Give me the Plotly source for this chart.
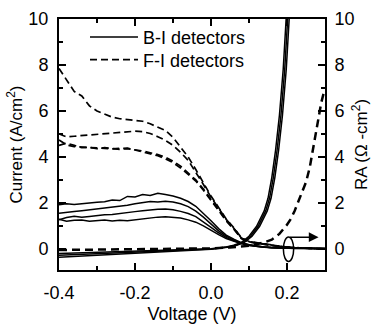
import plotly.graph_objects as go

# ---------------- data ----------------
V = [-0.40, -0.38, -0.36, -0.34, -0.32, -0.30, -0.28, -0.26, -0.24, -0.22,
     -0.20, -0.18, -0.16, -0.14, -0.12, -0.10, -0.08, -0.06, -0.04, -0.02,
     0.00, 0.02, 0.04, 0.06, 0.08, 0.10, 0.12, 0.14, 0.16, 0.18,
     0.20, 0.22, 0.24, 0.26, 0.28, 0.30]

# RA of B-I detectors (solid)
ra_bi_1 = [1.92, 1.96, 1.93, 1.97, 1.99, 2.03, 2.05, 2.12, 2.10, 2.28,
           2.26, 2.36, 2.32, 2.42, 2.36, 2.30, 2.20, 2.06, 1.85, 1.55,
           1.22, 0.88, 0.60, 0.42, 0.27, 0.18, 0.12, 0.08, 0.06, 0.04,
           0.03, 0.02, 0.02, 0.01, 0.01, 0.01]
ra_bi_2 = [1.55, 1.60, 1.62, 1.66, 1.70, 1.72, 1.77, 1.80, 1.84, 1.90,
           1.96, 2.00, 2.06, 2.04, 2.07, 2.04, 1.96, 1.84, 1.64, 1.38,
           1.06, 0.78, 0.55, 0.38, 0.25, 0.17, 0.11, 0.08, 0.05, 0.04,
           0.03, 0.02, 0.02, 0.01, 0.01, 0.01]
ra_bi_3 = [1.26, 1.36, 1.42, 1.38, 1.41, 1.46, 1.48, 1.50, 1.53, 1.56,
           1.62, 1.66, 1.70, 1.72, 1.73, 1.70, 1.63, 1.54, 1.40, 1.18,
           0.93, 0.70, 0.50, 0.35, 0.24, 0.16, 0.11, 0.07, 0.05, 0.04,
           0.03, 0.02, 0.02, 0.01, 0.01, 0.01]
ra_bi_4 = [1.29, 1.20, 1.24, 1.26, 1.20, 1.22, 1.26, 1.21, 1.24, 1.22,
           1.26, 1.32, 1.36, 1.38, 1.40, 1.38, 1.34, 1.26, 1.16, 1.00,
           0.80, 0.62, 0.45, 0.32, 0.22, 0.15, 0.10, 0.07, 0.05, 0.04,
           0.03, 0.02, 0.02, 0.01, 0.01, 0.01]

# RA of F-I detectors (dashed)
ra_fi_1 = [7.85, 7.35, 6.85, 6.65, 6.22, 6.00, 5.85, 5.73, 5.66, 5.62,
           5.61, 5.55, 5.44, 5.30, 5.15, 4.85, 4.45, 4.00, 3.45, 2.85,
           2.30, 1.80, 1.30, 0.92, 0.48, 0.32, 0.26, 0.22, 0.17, 0.12,
           0.08, 0.05, 0.03, 0.02, 0.01, 0.00]
ra_fi_2 = [5.00, 4.87, 4.90, 4.93, 4.97, 5.00, 5.03, 5.06, 5.08, 5.10,
           5.12, 5.10, 5.02, 4.88, 4.72, 4.50, 4.20, 3.85, 3.35, 2.80,
           2.25, 1.75, 1.28, 0.90, 0.47, 0.31, 0.25, 0.21, 0.16, 0.11,
           0.07, 0.05, 0.03, 0.02, 0.01, 0.00]
ra_fi_3 = [4.74, 4.52, 4.45, 4.42, 4.40, 4.39, 4.37, 4.35, 4.37, 4.38,
           4.30, 4.22, 4.14, 4.05, 3.92, 3.75, 3.52, 3.25, 2.95, 2.55,
           2.10, 1.65, 1.22, 0.85, 0.45, 0.30, 0.24, 0.20, 0.15, 0.11,
           0.07, 0.05, 0.03, 0.02, 0.01, 0.00]
ra_fi_4 = [4.50, 4.60, 4.50, 4.40, 4.42, 4.36, 4.40, 4.38, 4.33, 4.36,
           4.32, 4.26, 4.18, 4.10, 3.98, 3.82, 3.60, 3.32, 3.00, 2.60,
           2.15, 1.68, 1.25, 0.88, 0.46, 0.30, 0.24, 0.20, 0.15, 0.11,
           0.07, 0.05, 0.03, 0.02, 0.01, 0.00]

# Current of B-I detectors (solid)
V_iv_bi_1 = [-0.40, -0.30, -0.20, -0.10, 0.00, 0.04, 0.06, 0.08, 0.10, 0.12,
             0.14, 0.15, 0.16, 0.17, 0.18, 0.19, 0.20, 0.21]
V_iv_bi_2 = [-0.40, -0.30, -0.20, -0.10, 0.00, 0.044, 0.064, 0.084, 0.104, 0.124,
             0.144, 0.154, 0.164, 0.174, 0.184, 0.194, 0.204, 0.214]
V_iv_bi_3 = [-0.40, -0.30, -0.20, -0.10, 0.00, 0.048, 0.068, 0.088, 0.108, 0.128,
             0.148, 0.158, 0.168, 0.178, 0.188, 0.198, 0.208, 0.218]
cur_bi_1 = [-0.20, -0.15, -0.10, -0.05, 0.00, 0.08, 0.16, 0.28, 0.55, 0.98,
            1.65, 2.20, 3.10, 4.30, 5.80, 7.80, 10.3, 13.5]
cur_bi_2 = [-0.28, -0.21, -0.14, -0.07, -0.01, 0.08, 0.16, 0.28, 0.55, 0.98,
            1.65, 2.20, 3.10, 4.30, 5.80, 7.80, 10.3, 13.5]
cur_bi_3 = [-0.36, -0.27, -0.18, -0.09, -0.02, 0.08, 0.16, 0.28, 0.55, 0.98,
            1.65, 2.20, 3.10, 4.30, 5.80, 7.80, 10.3, 13.5]

# Current of F-I detectors (dashed)
V_iv_fi = [-0.40, -0.20, 0.00, 0.05, 0.10, 0.12, 0.14, 0.16, 0.18, 0.20,
           0.21, 0.22, 0.23, 0.24, 0.25, 0.26, 0.27, 0.28, 0.29, 0.30]
cur_fi = [-0.05, -0.02, 0.02, 0.06, 0.13, 0.20, 0.28, 0.40, 0.65, 1.05,
          1.30, 1.65, 2.05, 2.45, 2.90, 3.55, 4.50, 5.45, 6.35, 7.0]

x_tickvals = [-0.4, -0.2, 0.0, 0.2]
x_ticktext = ["-0.4", "-0.2", "0.0", "0.2"]
x_minor = [-0.3, -0.1, 0.1, 0.3]
y_tickvals = [0, 2, 4, 6, 8, 10]
y_minor = [1, 3, 5, 7, 9]

legend_names = ["B-I detectors", "F-I detectors"]

# ellipse / arrow annotation (data coordinates)
ell_x = [0.1905, 0.2175]
ell_y = [-0.55, 0.52]
arrow_y = 0.51
arrow_x = [0.204, 0.283]

# ---------------- figure ----------------
FONT = "Liberation Sans, Arial, sans-serif"
fig = go.Figure()

DASH_THIN = "7px,4px"
DASH_THICK = "8px,5px"

for i, ys in enumerate([ra_bi_1, ra_bi_2, ra_bi_3, ra_bi_4]):
    fig.add_trace(go.Scatter(x=V, y=ys, mode="lines",
                             line=dict(color="black", width=1.5),
                             name=legend_names[0], showlegend=(i == 0),
                             legend="legend"))
for xs, ys in zip([V_iv_bi_1, V_iv_bi_2, V_iv_bi_3],
                  [cur_bi_1, cur_bi_2, cur_bi_3]):
    fig.add_trace(go.Scatter(x=xs, y=ys, mode="lines",
                             line=dict(color="black", width=1.5),
                             showlegend=False))
for i, ys in enumerate([ra_fi_1, ra_fi_2, ra_fi_3, ra_fi_4]):
    fig.add_trace(go.Scatter(x=V, y=ys, mode="lines",
                             line=dict(color="black", width=1.7, dash=DASH_THIN),
                             name=legend_names[1], showlegend=(i == 0),
                             legend="legend2"))
fig.add_trace(go.Scatter(x=V_iv_fi, y=cur_fi, mode="lines",
                         line=dict(color="black", width=2.5, dash=DASH_THICK),
                         showlegend=False))

# dummy trace to enable the right axis
fig.add_trace(go.Scatter(x=[None], y=[None], yaxis="y2", showlegend=False,
                         hoverinfo="skip"))

fig.add_shape(type="circle", xref="x", yref="y",
              x0=ell_x[0], x1=ell_x[1], y0=ell_y[0], y1=ell_y[1],
              line=dict(color="black", width=1.5))
fig.add_annotation(x=arrow_x[1], y=arrow_y, ax=arrow_x[0], ay=arrow_y,
                   xref="x", yref="y", axref="x", ayref="y",
                   showarrow=True, arrowhead=2, arrowsize=1.3, arrowwidth=1.5,
                   arrowcolor="black", text="")

axis_common = dict(showline=True, linewidth=2, linecolor="black",
                   ticks="inside", tickwidth=2, ticklen=7, tickcolor="black",
                   showgrid=False, zeroline=False, automargin=False,
                   tickfont=dict(family=FONT, size=18, color="black"))

leg_common = dict(xanchor="left", yanchor="top", bgcolor="rgba(0,0,0,0)",
                  borderwidth=0, itemwidth=48,
                  font=dict(family=FONT, size=18, color="black"))

fig.update_layout(
    width=371, height=324,
    margin=dict(l=59, r=46, t=19, b=54),
    paper_bgcolor="white", plot_bgcolor="white",
    font=dict(family=FONT, size=18, color="black"),
    showlegend=True,
    legend=dict(x=0.0977, y=1.001, **leg_common),
    legend2=dict(x=0.0977, y=0.911, **leg_common),
    xaxis=dict(range=[-0.4, 0.3], tickmode="array", tickvals=x_tickvals,
               ticktext=x_ticktext, mirror="ticks", ticklabelstandoff=5,
               minor=dict(tickmode="array", tickvals=x_minor, ticks="inside",
                          ticklen=4, tickwidth=2, tickcolor="black"),
               title=dict(text="Voltage (V)", font=dict(family=FONT, size=18),
                          standoff=11),
               **axis_common),
    yaxis=dict(range=[-0.92, 10], tickmode="array", tickvals=y_tickvals,
               mirror="ticks", ticklabelstandoff=5,
               minor=dict(tickmode="array", tickvals=y_minor, ticks="inside",
                          ticklen=4, tickwidth=2, tickcolor="black"),
               title=dict(text="Current (A/cm<sup>2</sup>)",
                          font=dict(family=FONT, size=17), standoff=1),
               **axis_common),
    yaxis2=dict(range=[-0.92, 10], tickmode="array", tickvals=y_tickvals,
                overlaying="y", side="right", ticklabelstandoff=4,
                minor=dict(tickmode="array", tickvals=y_minor, ticks="inside",
                           ticklen=4, tickwidth=2, tickcolor="black"),
                title=dict(text="RA (Ω -cm<sup>2</sup>)",
                           font=dict(family=FONT, size=17), standoff=4),
                **axis_common),
)

fig.write_html("out.html")
